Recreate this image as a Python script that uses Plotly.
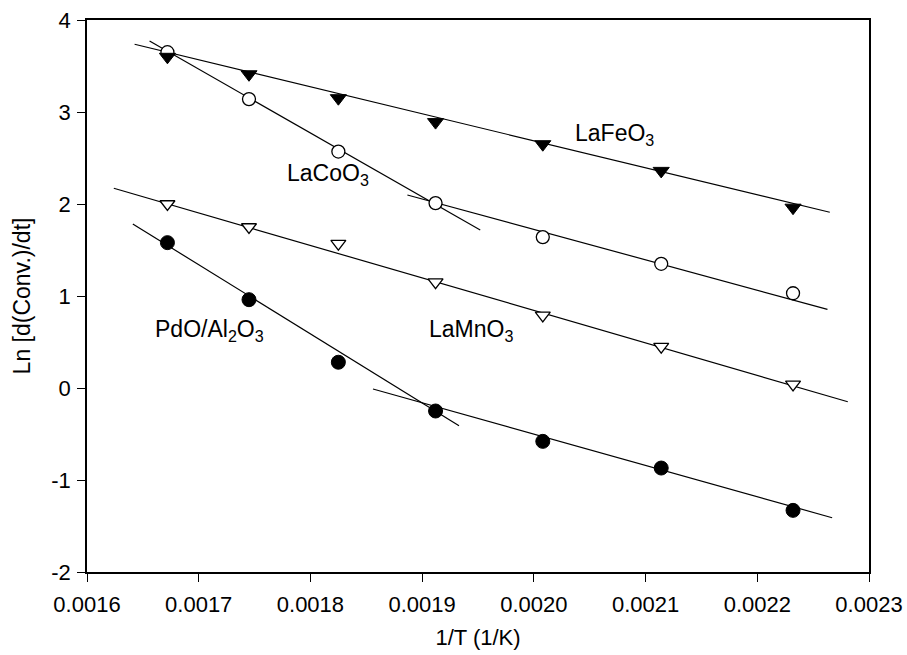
import plotly.graph_objects as go

# 1/T values (1/K)
inv_T = [0.001672, 0.001745, 0.001825, 0.001912, 0.002008, 0.002114, 0.002232]

# Ln[d(Conv.)/dt] values
lafeo3 = [3.60, 3.41, 3.15, 2.89, 2.65, 2.36, 1.96]
lacoo3 = [3.65, 3.14, 2.57, 2.01, 1.64, 1.35, 1.03]
lamno3 = [2.00, 1.75, 1.57, 1.15, 0.79, 0.45, 0.04]
pdo = [1.58, 0.96, 0.28, -0.25, -0.58, -0.87, -1.33]

# fitted line segments (endpoints)
fit_lafeo3_x = [0.0016426, 0.0022649]
fit_lafeo3_y = [3.736, 1.910]
fit_lacoo3_hi_x = [0.001656, 0.001952]
fit_lacoo3_hi_y = [3.772, 1.717]
fit_lacoo3_lo_x = [0.0018868, 0.0022628]
fit_lacoo3_lo_y = [2.098, 0.855]
fit_lamno3_x = [0.001624, 0.002281]
fit_lamno3_y = [2.171, -0.149]
fit_pdo_hi_x = [0.001641, 0.001933]
fit_pdo_hi_y = [1.783, -0.41]
fit_pdo_lo_x = [0.001856, 0.002267]
fit_pdo_lo_y = [-0.011, -1.41]

x_ticks = [0.0016, 0.0017, 0.0018, 0.0019, 0.0020, 0.0021, 0.0022, 0.0023]
x_tick_text = ["0.0016", "0.0017", "0.0018", "0.0019", "0.0020", "0.0021", "0.0022", "0.0023"]
y_ticks = [-2, -1, 0, 1, 2, 3, 4]
y_tick_text = ["-2", "-1", "0", "1", "2", "3", "4"]

labels = ["LaFeO<sub>3</sub>", "LaCoO<sub>3</sub>", "LaMnO<sub>3</sub>", "PdO/Al<sub>2</sub>O<sub>3</sub>"]
label_x = [0.0020723, 0.001816, 0.001944, 0.0017094]
label_y = [2.76, 2.32, 0.63, 0.62]

FONT = "Liberation Sans, Arial, sans-serif"
fig = go.Figure()

line_style = dict(color="black", width=1.2)
for xs, ys in [(fit_lafeo3_x, fit_lafeo3_y), (fit_lacoo3_hi_x, fit_lacoo3_hi_y),
               (fit_lacoo3_lo_x, fit_lacoo3_lo_y), (fit_lamno3_x, fit_lamno3_y),
               (fit_pdo_hi_x, fit_pdo_hi_y), (fit_pdo_lo_x, fit_pdo_lo_y)]:
    fig.add_trace(go.Scatter(x=xs, y=ys, mode="lines", line=line_style,
                             showlegend=False, hoverinfo="skip"))

fig.add_trace(go.Scatter(x=inv_T, y=lamno3, mode="markers", showlegend=False,
                         marker=dict(symbol="triangle-down", size=13, color="white",
                                     line=dict(color="black", width=1.3))))
fig.add_trace(go.Scatter(x=inv_T, y=lacoo3, mode="markers", showlegend=False,
                         marker=dict(symbol="circle", size=13, color="white",
                                     line=dict(color="black", width=1.3))))
fig.add_trace(go.Scatter(x=inv_T, y=lafeo3, mode="markers", showlegend=False,
                         marker=dict(symbol="triangle-down", size=14, color="black",
                                     line=dict(color="black", width=1))))
fig.add_trace(go.Scatter(x=inv_T, y=pdo, mode="markers", showlegend=False,
                         marker=dict(symbol="circle", size=14, color="black",
                                     line=dict(color="black", width=1))))

for t, lx, ly in zip(labels, label_x, label_y):
    fig.add_annotation(x=lx, y=ly, text=t, showarrow=False,
                       font=dict(family=FONT, size=23, color="black"))

fig.update_layout(
    width=907, height=655,
    margin=dict(l=87, r=38, t=20, b=83),
    paper_bgcolor="white", plot_bgcolor="white",
    font=dict(family=FONT, color="black", size=22),
)
fig.update_xaxes(range=[0.0016, 0.0023], tickvals=x_ticks, ticktext=x_tick_text,
                 showgrid=False, zeroline=False, showline=True, linecolor="black",
                 linewidth=1.5, mirror=True, ticks="outside", ticklen=8,
                 tickcolor="black", tickfont=dict(size=22, family=FONT),
                 ticklabelstandoff=4, automargin=False,
                 title=dict(text="1/T (1/K)", font=dict(size=22, family=FONT), standoff=13))
fig.update_yaxes(range=[-2, 4], tickvals=y_ticks, ticktext=y_tick_text,
                 showgrid=False, zeroline=False, showline=True, linecolor="black",
                 linewidth=1.5, mirror=True, ticks="outside", ticklen=8,
                 tickcolor="black", tickfont=dict(size=22, family=FONT),
                 ticklabelstandoff=2, automargin=False,
                 title=dict(text="Ln [d(Conv.)/dt]", font=dict(size=23, family=FONT), standoff=14))

fig.write_html("out.html", config={"displayModeBar": False},
               post_script="document.body.style.margin='0';document.body.style.overflow='hidden';")
